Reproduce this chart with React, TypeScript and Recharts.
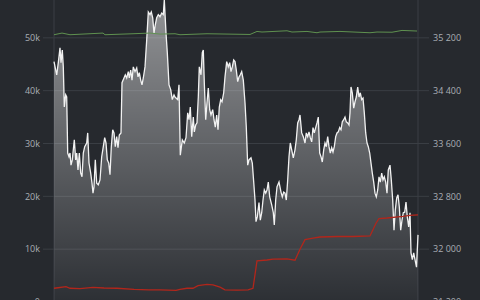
import React from 'react';
import { ComposedChart, Area, Line, XAxis, YAxis, CartesianGrid } from 'recharts';

// time positions (arbitrary units, 0..364) and volume values (thousands)
const volTimes = [
  0, 2.7, 4.3, 6, 7, 8.3, 9.3, 10.3, 11.7, 12.7, 13.7, 15, 16, 17, 18.3, 20.3, 21.7, 22.7, 24, 25.3,
  26.7, 28, 29.3, 30.7, 32.7, 33.7, 35, 36.7, 38, 39, 40, 41.3, 42.7, 44.3, 46, 47.7, 49.3, 50.7, 52, 53.3,
  54.7, 56, 57.3, 58.7, 60, 61.3, 62.7, 64, 65.3, 67, 68, 70, 71.3, 72.7, 74.3, 75.3, 76.7, 78, 79.3, 81,
  82.7, 84, 85.3, 86.7, 88, 89.3, 91, 92.7, 94.3, 96, 97.3, 98.7, 100, 101.3, 102.7, 104.3, 106, 107.7, 109.3, 110.3,
  112, 113.3, 115, 116.7, 118.3, 120,
  121, 123.7, 125, 126.3, 128.3, 130.3, 132, 133.7, 135, 136.3, 137.7, 139.3, 140.3, 141.7, 143, 144.3, 145.3, 147, 148.3, 149.3,
  150.3, 151.7, 153, 154.3, 155.7, 157, 158.7, 160, 161.3, 162.7, 164, 165.3, 166.7, 168, 169.7, 171, 172.7, 174.3, 175.7, 177,
  178.3, 179.7, 181, 182.3, 183.7, 185, 186.3, 187.7, 189.3, 191, 192.3, 193.7, 195, 197, 198.3, 199.7, 201, 202, 203.3, 205,
  206.3, 207.7, 209, 210.3, 211.7, 213, 214.3, 215.7, 217.7, 219.3, 220.3, 221.7, 223, 225, 227, 228.3, 229.7, 231, 232.3, 233.7,
  235, 236.3, 237.7, 239.3, 241, 242.3, 243.7, 245,
  246, 247.7, 249.3, 251, 252.3, 253.7, 255, 256.3, 257.7, 259, 260.3, 261.7, 263, 264.3, 265.7, 267, 268.3, 269.7, 271, 272.3,
  273.7, 275, 276.3, 277.7, 279, 280.3, 281.7, 283, 284.3, 285.7, 287, 288.3, 289.7, 291, 292.3, 293.7, 295, 296, 297, 298.3,
  299.7, 301, 302.3, 303.7, 305, 306.3, 307.7, 309, 310.3, 311.7, 313, 314.3, 315.7, 317, 318.3, 319.7, 321, 322.3, 323.7, 325,
  326.3, 327.7, 329, 330.3, 331.7, 333, 334.3, 336, 337.3, 338.7, 340, 341.3, 342.7, 344, 345.3, 346.7, 348, 349.3, 350.7, 352,
  353.3, 354.7, 356, 357, 358.3, 359.7, 361, 362.5, 364,
];
const volValues = [
  45.5, 43.0, 45.3, 48.1, 45.3, 47.7, 44.5, 36.9, 39.2, 38.8, 28.2, 27.5, 28.2, 25.9, 26.9, 30.7, 26.9, 28.2, 25.0, 28.2,
  24.4, 23.7, 28.2, 29.4, 30.1, 32.0, 26.3, 24.4, 22.5, 20.6, 21.8, 26.9, 22.5, 22.2, 23.1, 27.5, 29.4, 31.1, 30.1, 26.9,
  26.3, 24.1, 29.4, 32.6, 32.0, 29.4, 31.3, 29.2, 31.6, 32.0, 41.5, 42.4, 43.0, 42.4, 43.6, 42.4, 43.9, 42.0, 44.5, 43.6,
  44.3, 42.6, 43.4, 42.0, 41.1, 42.4, 44.5, 49.6, 54.9, 54.4, 54.9, 53.8, 50.9, 52.5, 53.8, 54.4, 54.0, 54.7, 54.4, 57.2,
  50.9, 47.2, 41.1, 40.2, 38.3, 39.2,
  38.8, 38.3, 41.1, 27.8, 30.7, 30.1, 31.1, 35.8, 34.5, 36.9, 31.3, 35.0, 32.2, 33.5, 33.9, 38.8, 44.5, 43.0, 47.2, 47.7,
  41.5, 34.5, 37.7, 40.5, 36.4, 35.4, 36.4, 34.5, 33.1, 35.4, 32.6, 36.9, 38.3, 37.9, 39.6, 42.6, 45.5, 44.5, 45.3, 43.6,
  44.5, 45.8, 45.5, 43.9, 41.7, 42.6, 43.0, 43.6, 42.0, 37.7, 33.1, 25.9, 26.9, 27.3, 26.3, 22.7, 19.3, 15.2, 16.1, 18.8,
  15.5, 16.9, 19.3, 21.2, 20.6, 21.2, 22.7, 19.9, 18.4, 16.9, 14.6, 19.3, 21.8, 22.7, 20.8, 19.9, 20.8, 20.6, 19.3, 23.1,
  27.5, 30.1, 28.8, 27.3, 28.8, 30.7, 33.9, 34.5,
  35.4, 32.0, 31.3, 30.1, 32.0, 31.3, 32.2, 31.1, 30.3, 33.0, 32.0, 33.0, 33.9, 35.0, 28.2, 27.5, 26.5, 28.8, 30.1, 29.4,
  31.3, 29.4, 28.2, 29.2, 28.4, 29.4, 31.3, 32.0, 32.2, 33.0, 32.6, 34.1, 34.5, 35.0, 34.1, 33.9, 33.5, 35.8, 40.7, 39.6,
  36.7, 37.9, 38.8, 40.7, 38.8, 39.6, 38.3, 38.6, 35.8, 32.0, 30.1, 29.4, 28.2, 26.3, 24.4, 22.7, 20.6, 19.9, 21.2, 23.7,
  22.7, 24.4, 23.1, 23.7, 22.7, 20.6, 25.0, 25.9, 23.1, 19.3, 13.6, 17.4, 19.7, 20.3, 18.0, 13.6, 15.5, 16.9, 17.0, 18.9,
  16.1, 14.2, 16.9, 9.3, 8.0, 9.3, 8.0, 6.6, 12.7,
];

const redTimes = [0, 4, 12, 16, 26, 39, 50, 63, 80, 95, 106, 122, 126, 133, 139, 144, 153, 159, 166, 171, 183, 194, 199, 203, 213, 219, 233, 241, 246, 251, 259, 266, 284, 299, 316, 322, 325, 333, 349, 356, 364];
const redValues = [2.6, 2.7, 2.9, 2.6, 2.55, 2.75, 2.65, 2.6, 2.4, 2.3, 2.3, 2.2, 2.4, 2.6, 2.6, 3.1, 3.35, 3.25, 2.8, 2.3, 2.25, 2.3, 2.6, 7.8, 7.95, 8.1, 8.15, 7.9, 10.0, 11.8, 12.1, 12.3, 12.4, 12.4, 12.5, 14.9, 15.8, 15.9, 16.2, 16.4, 16.5];

const greenTimes = [0, 8, 16, 29, 49, 51, 79, 96, 106, 121, 126, 153, 196, 203, 208, 233, 238, 253, 263, 266, 286, 316, 323, 338, 348, 363];
const greenValues = [35247, 35272, 35247, 35257, 35272, 35247, 35262, 35272, 35257, 35262, 35247, 35262, 35251, 35297, 35288, 35307, 35288, 35297, 35277, 35288, 35297, 35277, 35288, 35285, 35312, 35303];

const timeTicks = [28, 81.33, 134.67, 188, 241.33, 294.67, 348];
const leftTicks = [0, 10, 20, 30, 40, 50];
const rightTicks = [31200, 32000, 32800, 33600, 34400, 35200];

const volData = volTimes.map((t, i) => ({ t, v: volValues[i] })).filter((d) => d.v !== undefined);
const redData = redTimes.map((t, i) => ({ t, v: redValues[i] }));
const greenData = greenTimes.map((t, i) => ({ t, v: greenValues[i] }));

const BG = '#26292e';
const GRID = '#3a3e44';
const TEXT = '#a9aeb5';

const fmtLeft = (v: number) => (v === 0 ? '0' : `${v}k`);
const fmtRight = (v: number) => {
  const s = String(v);
  return s.slice(0, s.length - 3) + ' ' + s.slice(s.length - 3);
};

export default function App() {
  return (
    <div style={{ position: 'fixed', left: 0, top: 0, width: 480, height: 300, overflow: 'hidden', background: BG }}>
      <div style={{ position: 'absolute', left: 0, top: -15 }}>
        <ComposedChart width={480} height={347} margin={{ top: 0, right: 0, bottom: 0, left: 0 }}>
          <defs>
            <linearGradient id="volFill" x1="0" y1="0" x2="0" y2="1">
              <stop offset="0%" stopColor="#ffffff" stopOpacity={0.5} />
              <stop offset="100%" stopColor="#ffffff" stopOpacity={0.03} />
            </linearGradient>
          </defs>
          <CartesianGrid stroke={GRID} yAxisId="left" />
          <XAxis
            type="number"
            dataKey="t"
            domain={[0, 364]}
            ticks={timeTicks}
            axisLine={false}
            tickLine={false}
            tick={false}
            height={30}
          />
          <YAxis
            yAxisId="left"
            orientation="left"
            width={54}
            domain={[0, 60]}
            ticks={leftTicks}
            tickFormatter={fmtLeft}
            axisLine={false}
            tickLine={{ stroke: GRID }}
            tickSize={11}
            tickMargin={3}
            tick={{ fill: TEXT, fontSize: 9, fontFamily: 'Open Sans' }}
          />
          <YAxis
            yAxisId="right"
            orientation="right"
            width={62}
            domain={[31200, 36000]}
            ticks={rightTicks}
            tickFormatter={fmtRight}
            axisLine={false}
            tickLine={{ stroke: GRID }}
            tickSize={11}
            tickMargin={4}
            tick={{ fill: TEXT, fontSize: 9, fontFamily: 'Open Sans' }}
          />
          <Area
            yAxisId="left"
            data={volData}
            dataKey="v"
            type="linear"
            stroke="#f2f2f2"
            strokeWidth={1.3}
            fill="url(#volFill)"
            fillOpacity={1}
            dot={false}
            activeDot={false}
            isAnimationActive={false}
          />
          <Line
            yAxisId="left"
            data={redData}
            dataKey="v"
            type="linear"
            stroke="#b2261b"
            strokeWidth={1.3}
            dot={false}
            activeDot={false}
            isAnimationActive={false}
          />
          <Line
            yAxisId="right"
            data={greenData}
            dataKey="v"
            type="linear"
            stroke="#5f9150"
            strokeWidth={1}
            dot={false}
            activeDot={false}
            isAnimationActive={false}
          />
        </ComposedChart>
      </div>
    </div>
  );
}
